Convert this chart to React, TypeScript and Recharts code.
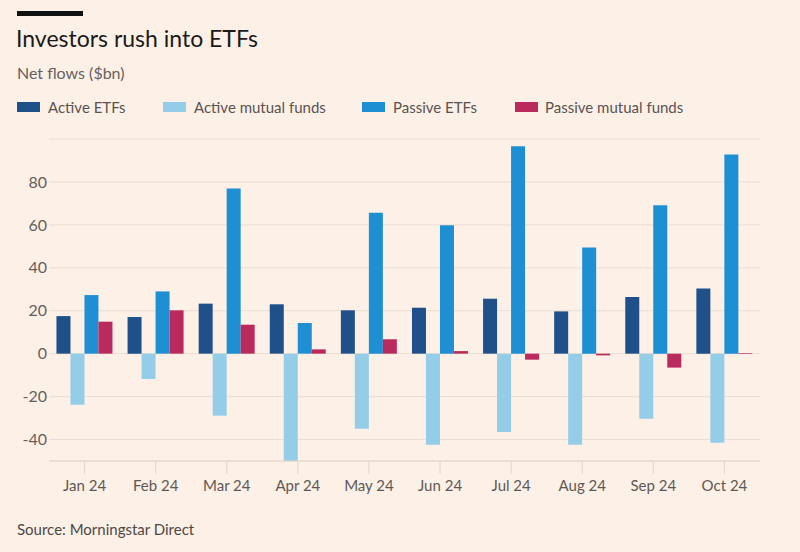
import React from "react";
import { BarChart, Bar, XAxis, YAxis, CartesianGrid } from "recharts";

const months = ["Jan 24", "Feb 24", "Mar 24", "Apr 24", "May 24", "Jun 24", "Jul 24", "Aug 24", "Sep 24", "Oct 24"];
const activeEtfs = [17.5, 17.1, 23.3, 23.0, 20.2, 21.4, 25.6, 19.7, 26.4, 30.3];
const activeMutualFunds = [-23.8, -11.8, -28.9, -50.2, -35.0, -42.4, -36.5, -42.4, -30.3, -41.5];
const passiveEtfs = [27.3, 29.0, 76.9, 14.3, 65.6, 59.8, 96.6, 49.4, 69.1, 92.8];
const passiveMutualFunds = [14.9, 20.2, 13.5, 2.0, 6.7, 1.2, -2.8, -0.8, -6.5, 0.3];
const yTicks = [-40, -20, 0, 20, 40, 60, 80];

const seriesNames = ["Active ETFs", "Active mutual funds", "Passive ETFs", "Passive mutual funds"];
const seriesKeys = ["activeEtfs", "activeMutualFunds", "passiveEtfs", "passiveMutualFunds"];
const seriesColors = ["#1f5089", "#94cde8", "#1f8fd3", "#bb2a5c"];

const data = months.map((m, i) => ({
  month: m,
  activeEtfs: activeEtfs[i],
  activeMutualFunds: activeMutualFunds[i],
  passiveEtfs: passiveEtfs[i],
  passiveMutualFunds: passiveMutualFunds[i],
}));

const BG = "#fdf0e7";
const FONT = "Lato, 'Open Sans', sans-serif";

const legendPos = [
  { swatch: 17, text: 48 },
  { swatch: 163, text: 194 },
  { swatch: 362, text: 393 },
  { swatch: 515, text: 545 },
];

export default function App() {
  return (
    <div
      style={{
        position: "absolute",
        left: 0,
        top: 0,
        width: 800,
        height: 552,
        background: BG,
        fontFamily: FONT,
        overflow: "hidden",
      }}
    >
      <div style={{ position: "absolute", left: 17, top: 11, width: 66, height: 5, background: "#111" }} />
      <div
        style={{
          position: "absolute",
          left: 16,
          top: 24,
          fontSize: 23,
          color: "#1a1a1a",
          lineHeight: "28px",
          whiteSpace: "nowrap",
        }}
      >
        Investors rush into ETFs
      </div>
      <div
        style={{
          position: "absolute",
          left: 17,
          top: 63,
          fontSize: 16,
          color: "#66605c",
          lineHeight: "20px",
          whiteSpace: "nowrap",
        }}
      >
        Net flows ($bn)
      </div>
      {seriesNames.map((name, i) => (
        <React.Fragment key={name}>
          <div
            style={{
              position: "absolute",
              left: legendPos[i].swatch,
              top: 102,
              width: 23,
              height: 10,
              background: seriesColors[i],
            }}
          />
          <div
            style={{
              position: "absolute",
              left: legendPos[i].text,
              top: 97,
              fontSize: 15,
              color: "#5a5350",
              lineHeight: "20px",
              whiteSpace: "nowrap",
            }}
          >
            {name}
          </div>
        </React.Fragment>
      ))}
      <div style={{ position: "absolute", left: 0, top: 0 }}>
        <BarChart
          width={800}
          height={552}
          data={data}
          margin={{ top: 139, right: 40, bottom: 0, left: 0 }}
          barCategoryGap="10.5%"
          barGap={0}
        >
          <CartesianGrid horizontal={true} vertical={false} stroke="#ebded4" strokeWidth={1} />
          <XAxis
            dataKey="month"
            height={91}
            tickSize={13}
            tickMargin={6}
            axisLine={{ stroke: "#e3d5ca", strokeWidth: 1 }}
            tickLine={{ stroke: "#e3d5ca", strokeWidth: 1 }}
            tick={{ fill: "#5f5955", fontSize: 15, fontFamily: FONT }}
            interval={0}
          />
          <YAxis
            width={49}
            domain={[-50, 100]}
            ticks={yTicks}
            allowDataOverflow={true}
            axisLine={false}
            tickLine={false}
            tickSize={0}
            tickMargin={2}
            tick={{ fill: "#66605c", fontSize: 16, fontFamily: FONT }}
          />
          {seriesKeys.map((k, i) => (
            <Bar key={k} dataKey={k} name={seriesNames[i]} fill={seriesColors[i]} isAnimationActive={false} />
          ))}
        </BarChart>
      </div>
      <div
        style={{
          position: "absolute",
          left: 17,
          top: 519,
          fontSize: 15,
          color: "#4d4845",
          lineHeight: "20px",
          whiteSpace: "nowrap",
        }}
      >
        Source: Morningstar Direct
      </div>
    </div>
  );
}
